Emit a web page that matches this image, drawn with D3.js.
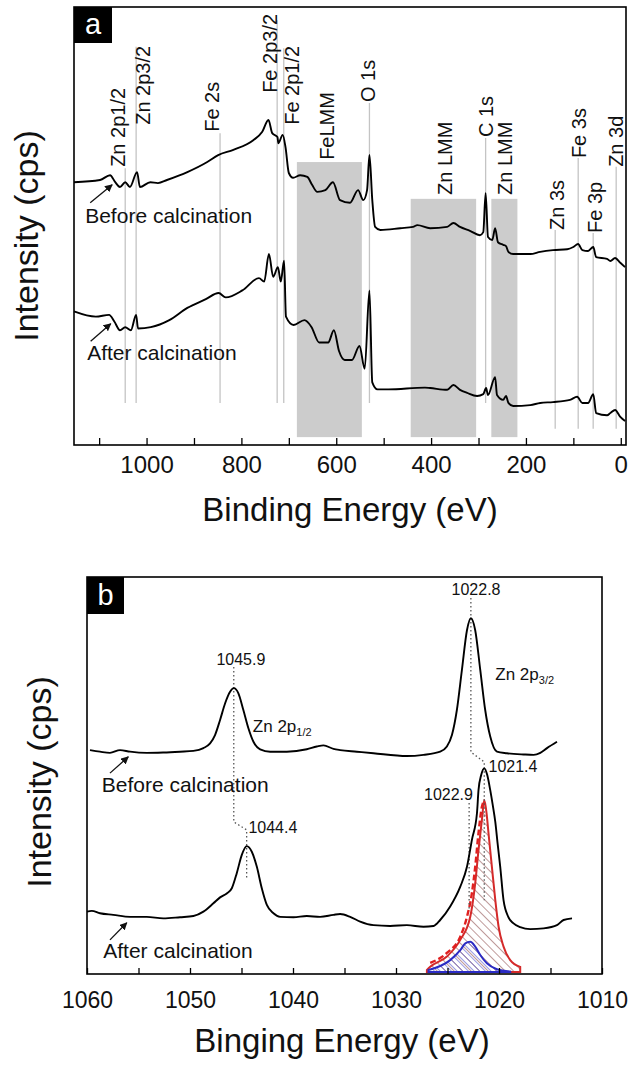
<!DOCTYPE html>
<meta charset="utf-8">
<head>
<style>
  body { margin: 0; background: #fff; }
  text { font-family: "Liberation Sans", Arial, sans-serif; fill: #111; }
  .spec { fill: none; stroke: #000; stroke-width: 1.9; stroke-linejoin: round; }
  .peakline { stroke: #c4c4c4; stroke-width: 1.3; }
  .band { fill: #cccccc; }
  .frame { fill: none; stroke: #000; stroke-width: 1.6; }
  .axis path { display: none; }
  .axis line { stroke: #000; stroke-width: 1.3; }
  .dots { fill: none; stroke: #555; stroke-width: 1.3; stroke-dasharray: 1.5, 2.5; }
  .arrow { stroke: #111; stroke-width: 1.3; }
</style>
</head>
<body>
<script src="https://d3js.org/d3.v7.min.js"></script>
<script>
// ---------- panel a : survey spectra [binding energy eV, intensity] ----------
var beforeA = [[1153,60.0],[1098,60.5],[1077,61.6],[1066,60.0],[1056,58.9],[1045,60.0],[1035,58.9],[1020,62.3],[1014,58.9],[992,60.0],[976,59.8],[957,60.5],[914,62.3],[872,64.6],[849,66.2],[817,67.4],[775,69.6],[756,71.5],[743,74.2],[735,71.2],[724,70.3],[722,68.9],[713,70.8],[707,68.0],[700,62.1],[691,61.0],[676,61.6],[661,61.2],[651,59.4],[640,57.8],[623,58.2],[607,60.0],[592,55.9],[571,55.3],[554,58.2],[543,55.9],[535,58.2],[530,66.2],[524,55.9],[518,49.8],[507,49.1],[465,49.5],[438,49.8],[429,50.2],[402,49.5],[366,49.8],[353,50.7],[339,49.8],[318,48.9],[297,47.9],[290,48.6],[285,57.5],[280,47.5],[271,46.8],[265,49.5],[259,46.3],[248,45.7],[242,45.4],[237,44.1],[227,43.6],[191,43.6],[170,44.1],[143,44.5],[113,44.7],[100,45.2],[90,45.9],[81,44.5],[69,44.3],[58,45.2],[52,42.9],[29,42.5],[22,42.0],[12,42.7],[1,41.6],[-9,40.6]];
var afterA = [[1153,30.5],[1107,29.3],[1079,29.7],[1068,28.2],[1056,26.2],[1045,26.9],[1033,26.2],[1022,29.7],[1018,26.6],[991,26.9],[952,28.5],[914,31.3],[875,33.3],[848,34.7],[833,33.7],[798,35.3],[763,38.1],[752,37.3],[742,43.6],[733,38.4],[723,40.6],[717,37.3],[710,42.1],[706,29.3],[690,27.4],[667,28.5],[652,26.9],[636,23.4],[617,23.4],[605,26.2],[594,21.4],[582,19.4],[567,19.4],[551,22.6],[540,17.4],[530,35.3],[524,14.3],[513,12.7],[490,12.7],[413,13.1],[402,13.0],[366,12.6],[353,13.7],[339,12.6],[324,11.9],[303,11.2],[290,11.6],[284,13.0],[280,11.4],[265,15.5],[261,11.4],[248,10.3],[242,11.2],[237,9.6],[227,8.9],[191,9.1],[170,9.6],[143,9.8],[107,10.3],[92,11.0],[81,9.6],[69,9.6],[58,11.6],[52,7.3],[29,6.8],[22,7.3],[12,8.0],[1,6.4],[-9,5.5]];

// shaded Auger regions [from eV, to eV, top intensity]
var bandsA = [[683,546,64.6],[443,305,56.2],[273,218,56.2]];

// peak assignments: line energy, line top/bottom, label position
var peaksA = [
  {text:"Zn 2p1/2", e:1045,  top:63.2, bot:9.6, le:1059.9, li:63.5},
  {text:"Zn 2p3/2", e:1022,  top:90.9, bot:9.6, le:1007.2, li:73.1},
  {text:"Fe 2s",    e:845,   top:71.2, bot:9.6, le:861.7,  li:71.5},
  {text:"Fe 2p3/2", e:724.6, top:97.0, bot:9.6, le:739.3,  li:80.4},
  {text:"Fe 2p1/2", e:710.7, top:90.6, bot:9.6, le:693.0,  li:73.1},
  {text:"FeLMM",    e:null,  le:619.8, li:65.1},
  {text:"O 1s",     e:530,   top:78.1, bot:9.6, le:532.7,  li:78.3},
  {text:"Zn LMM",   e:null,  le:370.3, li:57.1},
  {text:"C 1s",     e:285,   top:70.1, bot:9.6, le:284.5,  li:70.3},
  {text:"Zn LMM",   e:null,  le:243.8, li:57.1},
  {text:"Zn 3s",    e:138.3, top:49.1, bot:3.7, le:134.8,  li:49.1},
  {text:"Fe 3s",    e:89.8,  top:65.5, bot:3.7, le:87.7,   li:65.5},
  {text:"Fe 3p",    e:58.2,  top:48.4, bot:3.7, le:54.0,   li:48.4},
  {text:"Zn 3d",    e:9.7,   top:63.5, bot:3.7, le:9.7,    li:63.5}
];
var notesA = [
  {text:"Before calcination", e:1129.4, i:50.7, from:[1118.8,55.3], to:[1072.5,59.4]},
  {text:"After calcination",  e:1125.2, i:19.4, from:[1117.9,23.7], to:[1075.5,27.7]}
];
var ticksA = d3.range(0, 1101, 100);

// ---------- panel b : Zn 2p region ----------
var upperB = [[1059.71,56.4],[1058.74,56.0],[1057.77,55.7],[1056.79,56.4],[1055.82,56.0],[1054.2,55.7],[1052.59,55.8],[1050.97,56.0],[1049.67,56.2],[1048.7,56.9],[1048.05,58.1],[1047.57,60.2],[1047.08,64.0],[1046.59,68.2],[1046.11,71.1],[1045.75,72.0],[1045.3,70.7],[1044.82,66.5],[1044.33,61.9],[1043.84,58.5],[1043.19,56.6],[1042.22,56.0],[1040.6,56.0],[1038.66,56.6],[1037.69,57.3],[1037.04,57.6],[1036.07,56.7],[1035.42,56.4],[1033.8,56.0],[1032.19,55.6],[1028.94,54.9],[1027.33,55.2],[1025.71,56.0],[1025.06,57.3],[1024.57,60.2],[1024.09,66.5],[1023.6,76.6],[1023.11,86.6],[1022.73,89.6],[1022.31,86.6],[1021.82,76.6],[1021.34,66.5],[1020.85,59.8],[1020.2,56.0],[1019.23,55.6],[1017.62,55.3],[1016.64,55.2],[1015.99,55.7],[1015.34,56.9],[1014.37,58.5]];
var lowerB = [[1060,15.7],[1059.54,15.9],[1058.74,15.3],[1057.45,14.9],[1055.82,14.4],[1054.2,14.4],[1052.59,14.0],[1050.97,14.3],[1049.67,14.6],[1048.7,15.7],[1047.73,17.8],[1047.08,19.3],[1046.43,20.3],[1045.94,21.6],[1045.46,25.4],[1044.97,30.0],[1044.49,32.2],[1044.0,30.8],[1043.51,27.0],[1043.03,21.6],[1042.54,17.4],[1041.9,15.3],[1041.25,14.4],[1039.96,14.3],[1038.66,14.6],[1037.37,14.4],[1036.07,14.9],[1035.42,15.1],[1034.45,14.4],[1033.48,13.2],[1032.19,12.3],[1030.57,12.1],[1028.94,12.3],[1027.33,11.9],[1026.36,12.1],[1025.71,13.6],[1024.74,17.0],[1023.76,22.0],[1023.11,27.0],[1022.63,33.8],[1022.14,40.5],[1021.99,46.3],[1021.73,50.1],[1021.43,51.8],[1021.14,50.1],[1020.85,46.3],[1020.61,42.6],[1020.36,38.3],[1020.12,32.5],[1019.88,27.0],[1019.56,18.6],[1019.1,14.4],[1018.62,12.8],[1017.94,11.8],[1016.97,11.3],[1015.67,11.5],[1014.37,12.3],[1013.73,13.6],[1012.91,14.0]];
// fitted components of the after-calcination Zn 2p3/2 peak
var fitMainB = [[1027.0,1.0],[1026.68,1.8],[1025.06,4.4],[1023.76,8.6],[1022.79,14.4],[1022.31,22.8],[1021.99,31.2],[1021.66,38.8],[1021.43,43.8],[1021.19,40.1],[1021.02,35.5],[1020.69,27.0],[1020.36,18.6],[1020.04,11.9],[1019.56,6.9],[1018.91,3.5],[1017.94,1.8]];
var fitSumB = [[1026.68,2.8],[1025.06,5.3],[1023.76,9.4],[1023.11,14.4],[1022.63,20.4],[1022.31,27.0],[1021.99,35.5],[1021.66,42.1],[1021.43,43.8]];
var fitMinorB = [[1026.84,1.0],[1024.74,3.5],[1023.76,6.0],[1023.27,7.7],[1022.79,8.1],[1022.31,6.9],[1021.82,4.8],[1021.17,2.7],[1020.2,1.2],[1018.91,0.6]];
var fitBase = 0.5;

var connectorsB = [
  [[1045.75,77.3],[1045.75,38.3],[1044.5,36.3],[1044.5,24.2]],
  [[1022.73,94.7],[1022.73,55.9],[1021.43,53.4],[1021.43,18.6]],
  [[1022.9,43.1],[1022.9,16.1]]
];
var valuesB = [
  {text:"1045.9", e:1045.06, i:77.8, anchor:"middle"},
  {text:"1044.4", e:1044.33, i:35.5, anchor:"start"},
  {text:"1022.8", e:1022.23, i:95.5, anchor:"middle"},
  {text:"1021.4", e:1021.02, i:50.9, anchor:"start"},
  {text:"1022.9", e:1022.53, i:43.8, anchor:"end"}
];
var orbitalsB = [
  {main:"Zn 2p", sub:"1/2", e:1043.9, i:61.0},
  {main:"Zn 2p", sub:"3/2", e:1020.36, i:74.1}
];
var notesB = [
  {text:"Before calcination", e:1058.57, i:45.8, from:[1057.77,50.6], to:[1055.99,54.7]},
  {text:"After calcination",  e:1058.42, i:4.0,  from:[1057.77,8.6],  to:[1056.14,12.9]}
];
var ticksB = d3.range(1010, 1061, 5);

// ---------- drawing ----------
var svg = d3.select("body").append("svg").attr("width", 630).attr("height", 1068);
var defs = svg.append("defs");
defs.append("marker").attr("id", "arr").attr("viewBox", "0 0 10 10")
    .attr("refX", 9).attr("refY", 5).attr("markerWidth", 6).attr("markerHeight", 6)
    .attr("orient", "auto")
  .append("path").attr("d", "M0,0 L10,5 L0,10 z").attr("fill", "#111");
var hr = defs.append("pattern").attr("id", "hatchRed").attr("patternUnits", "userSpaceOnUse")
    .attr("width", 6).attr("height", 6).attr("patternTransform", "rotate(-45)");
hr.append("line").attr("x1", 0).attr("y1", 0).attr("x2", 0).attr("y2", 6)
    .attr("stroke", "#8a4646").attr("stroke-width", 1.1);
var hb = defs.append("pattern").attr("id", "hatchBlue").attr("patternUnits", "userSpaceOnUse")
    .attr("width", 4).attr("height", 4).attr("patternTransform", "rotate(-45)");
hb.append("line").attr("x1", 0).attr("y1", 0).attr("x2", 0).attr("y2", 4)
    .attr("stroke", "#4646c8").attr("stroke-width", 1.1);

function panelLabel(x, y, w, h, t) {
  svg.append("rect").attr("x", x).attr("y", y).attr("width", w).attr("height", h).attr("fill", "#000");
  svg.append("text").attr("x", x + w / 2).attr("y", y + h - 9).attr("text-anchor", "middle")
      .style("font-size", "29px").style("fill", "#fff").text(t);
}

// ===== panel a =====
var A = {left: 74, top: 7, right: 626, bottom: 445};
var xA = d3.scaleLinear().domain([1153, -11]).range([A.left, A.right]);
var yA = d3.scaleLinear().domain([0, 100]).range([A.bottom, A.top]);
var gA = svg.append("g");

gA.selectAll(".band").data(bandsA).enter().append("rect")
    .attr("class", "band")
    .attr("x", d => xA(d[0])).attr("width", d => xA(d[1]) - xA(d[0]))
    .attr("y", d => yA(d[2])).attr("height", d => yA(1.8) - yA(d[2]));

gA.selectAll(".peakline").data(peaksA.filter(d => d.e !== null)).enter().append("line")
    .attr("class", "peakline")
    .attr("x1", d => xA(d.e)).attr("x2", d => xA(d.e))
    .attr("y1", d => yA(d.top)).attr("y2", d => yA(d.bot));

var lineA = d3.line().x(d => xA(d[0])).y(d => yA(d[1])).curve(d3.curveMonotoneX);
gA.append("path").datum(beforeA).attr("class", "spec").attr("d", lineA);
gA.append("path").datum(afterA).attr("class", "spec").attr("d", lineA);

gA.selectAll(".plab").data(peaksA).enter().append("text")
    .attr("transform", d => "translate(" + xA(d.le) + "," + yA(d.li) + ") rotate(-90)")
    .attr("dy", "0.35em").style("font-size", "20px").text(d => d.text);

notesA.forEach(function (n) {
  gA.append("text").attr("x", xA(n.e)).attr("y", yA(n.i)).style("font-size", "21px").text(n.text);
  gA.append("line").attr("class", "arrow")
      .attr("x1", xA(n.from[0])).attr("y1", yA(n.from[1]))
      .attr("x2", xA(n.to[0])).attr("y2", yA(n.to[1]))
      .attr("marker-end", "url(#arr)");
});

gA.append("g").attr("class", "axis").attr("transform", "translate(0," + A.bottom + ")")
    .call(d3.axisBottom(xA).tickValues(ticksA).tickSize(-7).tickPadding(11)
      .tickFormat(d => d % 200 === 0 ? d : ""))
    .selectAll("text").style("font-size", "24px").style("fill", "#111");

gA.append("rect").attr("class", "frame").attr("x", A.left).attr("y", A.top)
    .attr("width", A.right - A.left).attr("height", A.bottom - A.top);
panelLabel(A.left, A.top, 38, 36, "a");

gA.append("text").attr("x", (A.left + A.right) / 2).attr("y", 521).attr("text-anchor", "middle")
    .style("font-size", "33px").text("Binding Energy (eV)");
gA.append("text").attr("transform", "translate(38,236) rotate(-90)")
    .attr("text-anchor", "middle").style("font-size", "34px").text("Intensity (cps)");

// ===== panel b =====
var B = {left: 87, top: 577, right: 602, bottom: 974};
var xB = d3.scaleLinear().domain([1060, 1010]).range([B.left, B.right]);
var yB = d3.scaleLinear().domain([0, 100]).range([B.bottom, B.top]);
var gB = svg.append("g");

var areaB = d3.area().x(d => xB(d[0])).y0(yB(fitBase)).y1(d => yB(d[1])).curve(d3.curveMonotoneX);
var lineB = d3.line().x(d => xB(d[0])).y(d => yB(d[1])).curve(d3.curveMonotoneX);

gB.append("path").datum(fitMainB).attr("d", areaB).attr("fill", "url(#hatchRed)")
    .attr("stroke", "#d42a2a").attr("stroke-width", 2);
gB.append("path").datum(fitMinorB).attr("d", areaB).attr("fill", "url(#hatchBlue)")
    .attr("stroke", "#2b2bc4").attr("stroke-width", 2);
gB.append("path").datum(fitSumB).attr("d", lineB).attr("fill", "none")
    .attr("stroke", "#e02020").attr("stroke-width", 2.4).attr("stroke-dasharray", "6,3");

var lineLin = d3.line().x(d => xB(d[0])).y(d => yB(d[1]));
gB.selectAll(".dots").data(connectorsB).enter().append("path")
    .attr("class", "dots").attr("d", lineLin);

gB.append("path").datum(upperB).attr("class", "spec").attr("stroke-width", 2.2).attr("d", lineB);
gB.append("path").datum(lowerB).attr("class", "spec").attr("stroke-width", 2.2).attr("d", lineB);

gB.selectAll(".val").data(valuesB).enter().append("text")
    .attr("x", d => xB(d.e)).attr("y", d => yB(d.i)).attr("text-anchor", d => d.anchor)
    .style("font-size", "16px").text(d => d.text);

orbitalsB.forEach(function (o) {
  var t = gB.append("text").attr("x", xB(o.e)).attr("y", yB(o.i)).style("font-size", "17px");
  t.append("tspan").text(o.main);
  t.append("tspan").attr("dy", 4).style("font-size", "11px").text(o.sub);
});

notesB.forEach(function (n) {
  gB.append("text").attr("x", xB(n.e)).attr("y", yB(n.i)).style("font-size", "21px").text(n.text);
  gB.append("line").attr("class", "arrow")
      .attr("x1", xB(n.from[0])).attr("y1", yB(n.from[1]))
      .attr("x2", xB(n.to[0])).attr("y2", yB(n.to[1]))
      .attr("marker-end", "url(#arr)");
});

gB.append("g").attr("class", "axis").attr("transform", "translate(0," + B.bottom + ")")
    .call(d3.axisBottom(xB).tickValues(ticksB).tickSize(-6).tickPadding(18)
      .tickFormat(d => d % 10 === 0 ? d : ""))
    .selectAll("text").style("font-size", "23px").style("fill", "#111");

gB.append("rect").attr("class", "frame").attr("x", B.left).attr("y", B.top)
    .attr("width", B.right - B.left).attr("height", B.bottom - B.top);
panelLabel(B.left, B.top, 37, 37, "b");

gB.append("text").attr("x", 342).attr("y", 1052).attr("text-anchor", "middle")
    .style("font-size", "33px").text("Binging Energy (eV)");
gB.append("text").attr("transform", "translate(51,782) rotate(-90)")
    .attr("text-anchor", "middle").style("font-size", "34px").text("Intensity (cps)");
</script>
</body>
